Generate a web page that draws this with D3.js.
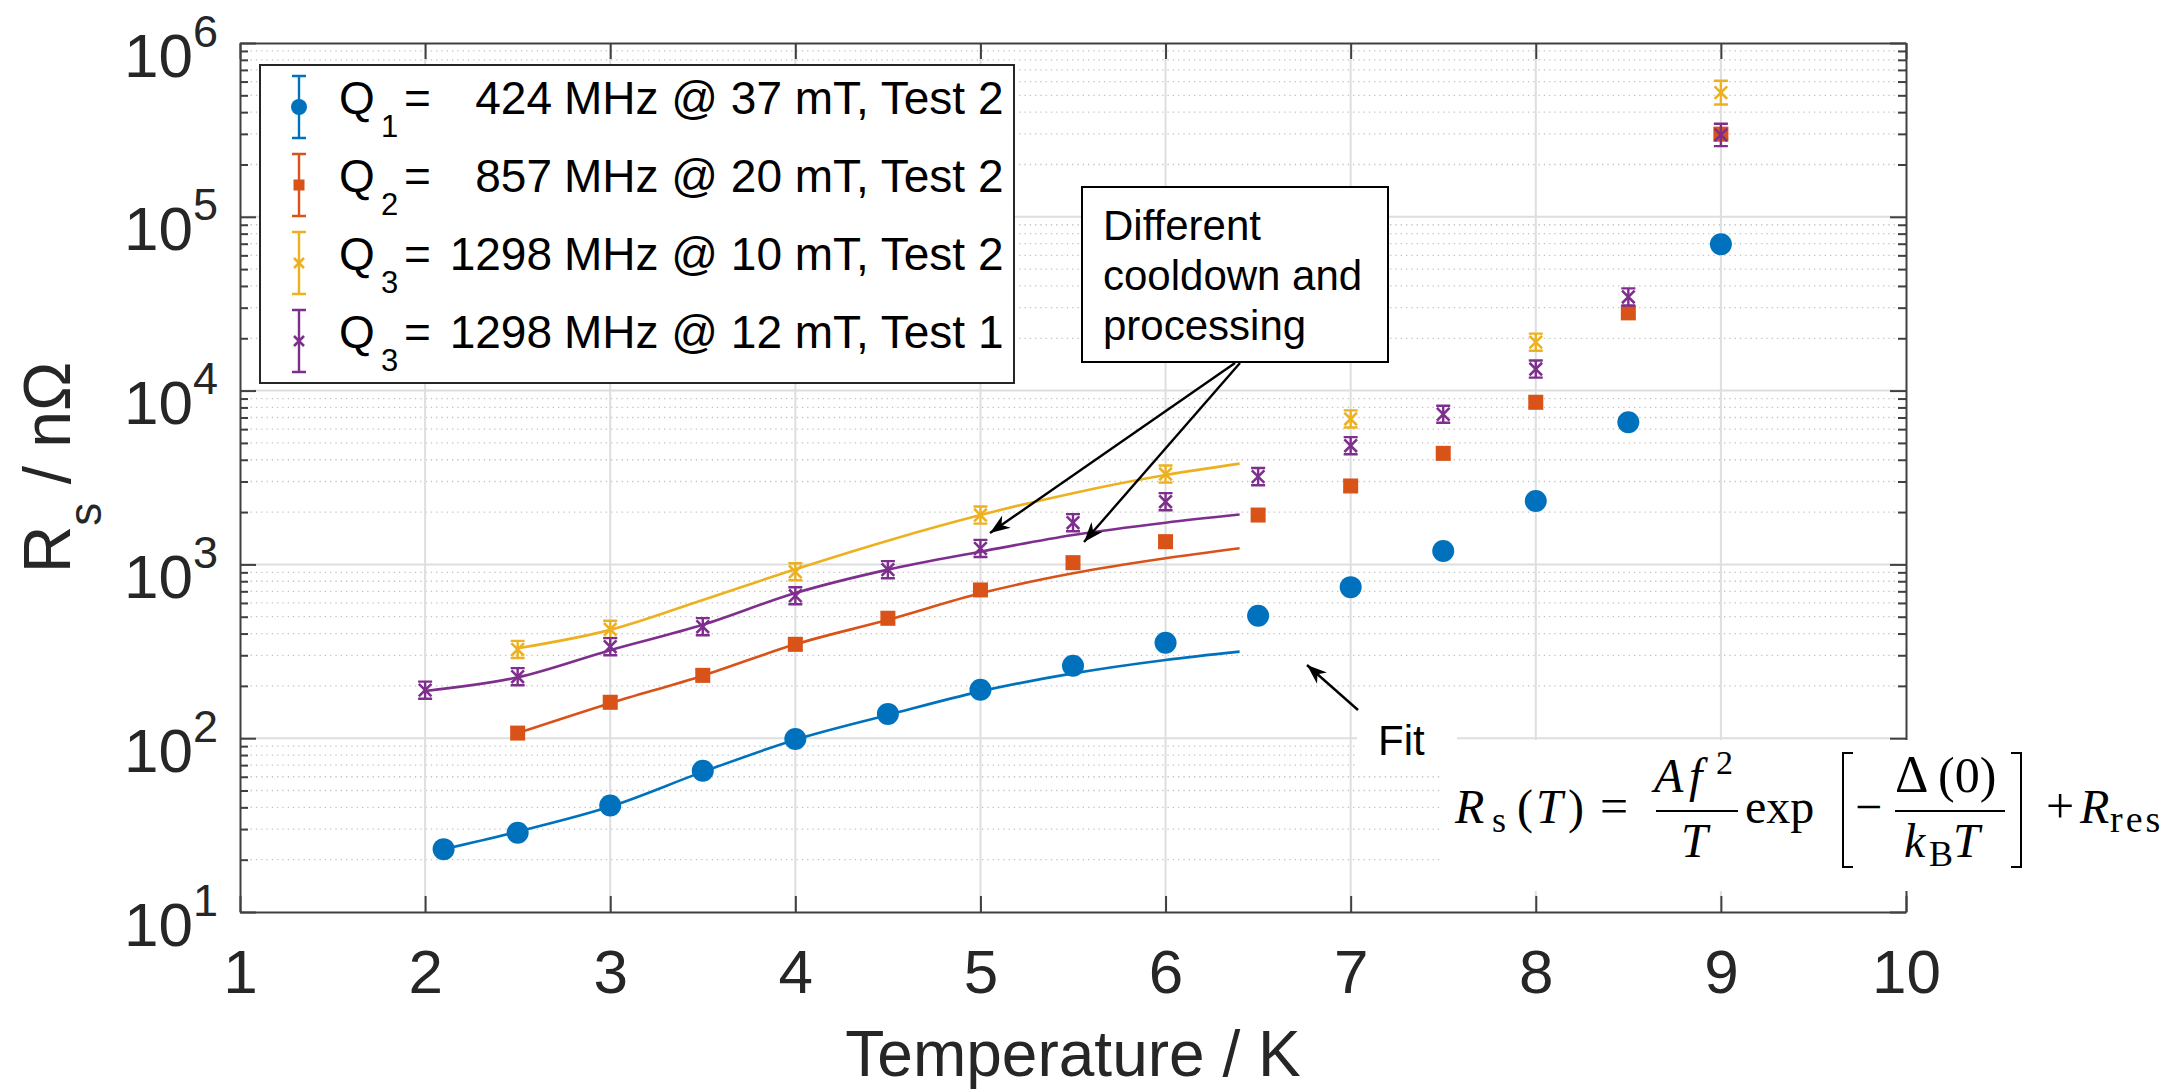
<!DOCTYPE html>
<html>
<head>
<meta charset="utf-8">
<script src="https://cdn.jsdelivr.net/npm/d3@7"></script>
<style>
	body { margin: 0; background: #fff; }
	svg { display: block; font-family: "Liberation Sans", Arial, sans-serif; }
</style>
</head>
<body>
<svg id="chart" width="2184" height="1089"></svg>
<script>
// ---- data (T in K, Rs in nOhm) ----
const tempQ1 = [2.1, 2.5, 3, 3.5, 4, 4.5, 5, 5.5, 6, 6.5, 7, 7.5, 8, 8.5, 9];
const rsQ1 = [23, 28.6, 41, 65, 99, 138, 190, 261, 354, 507, 740, 1195, 2316, 6580, 69500];
const errQ1 = [0.08, 0.08, 0.08, 0.08, 0.08, 0.08, 0.08, 0.08, 0.08, 0.08, 0.08, 0.08, 0.08, 0.08, 0.08];

const tempQ2 = [2.5, 3, 3.5, 4, 4.5, 5, 5.5, 6, 6.5, 7, 7.5, 8, 8.5, 9];
const rsQ2 = [107, 161, 230, 347, 490, 713, 1023, 1351, 1923, 2826, 4355, 8570, 28000, 299000];
const errQ2 = [0.08, 0.08, 0.08, 0.08, 0.08, 0.08, 0.08, 0.08, 0.08, 0.08, 0.08, 0.08, 0.08, 0.08];

const tempQ3a = [2.5, 3, 4, 5, 6, 7, 8, 9];
const rsQ3a = [324, 423, 907, 1923, 3310, 6870, 19000, 518000];
const errQ3a = [0.12, 0.12, 0.12, 0.12, 0.12, 0.12, 0.12, 0.17];

const tempQ3b = [2, 2.5, 3, 3.5, 4, 4.5, 5, 5.5, 6, 6.5, 7, 7.5, 8, 8.5, 9];
const rsQ3b = [189, 226, 336, 438, 660, 933, 1236, 1737, 2296, 3199, 4820, 7310, 13300, 34600, 296000];
const errQ3b = [0.12, 0.12, 0.12, 0.12, 0.12, 0.12, 0.12, 0.12, 0.12, 0.12, 0.12, 0.12, 0.12, 0.12, 0.16];

// fitted curves, sampled off the figure
const fitTempQ1 = [2.1, 2.5, 3, 3.5, 4, 4.5, 5, 5.5, 6, 6.4];
const fitQ1 = [23, 29, 40.4, 64, 98, 136, 186, 236, 282, 315];
const fitTempQ2 = [2.5, 3, 3.5, 4, 4.5, 5, 5.5, 6, 6.4];
const fitQ2 = [107, 159, 229, 347, 480, 682, 889, 1084, 1238];
const fitTempQ3a = [2.5, 3, 3.5, 4, 4.5, 5, 5.5, 6, 6.4];
const fitQ3a = [329, 420, 624, 938, 1370, 1923, 2570, 3266, 3800];
const fitTempQ3b = [2, 2.5, 3, 3.5, 4, 4.5, 5, 5.5, 6, 6.4];
const fitQ3b = [187, 224, 321, 449, 684, 933, 1183, 1476, 1738, 1935];

const xTicks = [1, 2, 3, 4, 5, 6, 7, 8, 9, 10];
const yTickExponents = [1, 2, 3, 4, 5, 6];

const legendSubs = ["1", "2", "3", "3"];
const legendFreqs = ["424", "857", "1298", "1298"];
const legendRest = ["MHz @ 37 mT, Test 2", "MHz @ 20 mT, Test 2", "MHz @ 10 mT, Test 2", "MHz @ 12 mT, Test 1"];

const noteLines = ["Different", "cooldown and", "processing"];

// ---- layout ----
const margin = { top: 43, right: 278, bottom: 177, left: 240 };
const width = 2184 - margin.left - margin.right;
const height = 1089 - margin.top - margin.bottom;
const axisColor = "#404040";
const textColor = "#262626";

const series = [
	{ t: tempQ1, v: rsQ1, e: errQ1, ft: fitTempQ1, fv: fitQ1, color: "#0072BD", marker: "circle" },
	{ t: tempQ2, v: rsQ2, e: errQ2, ft: fitTempQ2, fv: fitQ2, color: "#D95319", marker: "square" },
	{ t: tempQ3a, v: rsQ3a, e: errQ3a, ft: fitTempQ3a, fv: fitQ3a, color: "#EDB120", marker: "cross" },
	{ t: tempQ3b, v: rsQ3b, e: errQ3b, ft: fitTempQ3b, fv: fitQ3b, color: "#7E2F8E", marker: "cross" }
];

const svg = d3.select("#chart");
const g = svg.append("g").attr("transform", `translate(${margin.left},${margin.top})`);

const x = d3.scaleLinear().domain([1, 10]).range([0, width]);
const y = d3.scaleLog().domain([10, 1e6]).range([height, 0]);

const majorY = yTickExponents.map(p => Math.pow(10, p));
const minorY = [];
yTickExponents.slice(0, -1).forEach(p => {
	for (let m = 2; m <= 9; m++) minorY.push(m * Math.pow(10, p));
});

// ---- grid ----
const grid = g.append("g");
grid.selectAll("line.minor").data(minorY).join("line")
	.attr("class", "minor")
	.attr("x1", 0).attr("x2", width)
	.attr("y1", d => y(d)).attr("y2", d => y(d))
	.attr("stroke", "#c2c2c2").attr("stroke-width", 1.3)
	.attr("stroke-dasharray", "1.3,4");
grid.selectAll("line.majy").data(majorY.slice(1, -1)).join("line")
	.attr("class", "majy")
	.attr("x1", 0).attr("x2", width)
	.attr("y1", d => y(d)).attr("y2", d => y(d))
	.attr("stroke", "#dedede").attr("stroke-width", 2);
grid.selectAll("line.majx").data(xTicks.slice(1, -1)).join("line")
	.attr("class", "majx")
	.attr("x1", d => x(d)).attr("x2", d => x(d))
	.attr("y1", 0).attr("y2", height)
	.attr("stroke", "#dedede").attr("stroke-width", 2);

// ---- fits ----
const line = d3.line().x(d => x(d[0])).y(d => y(d[1])).curve(d3.curveMonotoneX);
series.forEach(s => {
	g.append("path")
		.datum(s.ft.map((t, i) => [t, s.fv[i]]))
		.attr("d", line)
		.attr("fill", "none")
		.attr("stroke", s.color)
		.attr("stroke-width", 2.6);
});

// ---- markers with error bars ----
const drawMarker = (sel, type, color, size) => {
	if (type === "circle") {
		sel.append("circle").attr("r", size).attr("fill", color);
	} else if (type === "square") {
		sel.append("rect").attr("x", -size).attr("y", -size)
			.attr("width", 2 * size).attr("height", 2 * size).attr("fill", color);
	} else {
		sel.append("path")
			.attr("d", `M${-size},${-size}L${size},${size}M${-size},${size}L${size},${-size}`)
			.attr("stroke", color).attr("stroke-width", 2.6).attr("fill", "none");
	}
};

const markerSize = { circle: 11, square: 7.5, cross: 6.3 };

series.forEach(s => {
	const pts = s.t.map((t, i) => ({ t, v: s.v[i], e: s.e[i] }));
	const pg = g.append("g").selectAll("g").data(pts).join("g")
		.attr("transform", d => `translate(${x(d.t)},${y(d.v)})`);

	pg.append("path")
		.attr("d", d => {
			const top = y(d.v * (1 + d.e)) - y(d.v);
			const bot = y(d.v / (1 + d.e)) - y(d.v);
			return `M0,${top}V${bot}M-7,${top}H7M-7,${bot}H7`;
		})
		.attr("stroke", s.color).attr("stroke-width", 2.4).attr("fill", "none");

	pg.each(function () {
		drawMarker(d3.select(this), s.marker, s.color, markerSize[s.marker]);
	});
});

// ---- axes ----
const styleAxis = (sel) => {
	sel.attr("font-family", null).attr("font-size", null);
	sel.selectAll("path.domain").attr("stroke", axisColor).attr("stroke-width", 2);
	sel.selectAll(".tick line").attr("stroke", axisColor).attr("stroke-width", 2);
	sel.selectAll("text").attr("fill", textColor);
};

const noLabel = () => "";

const xAxis = g.append("g")
	.attr("transform", `translate(0,${height})`)
	.call(d3.axisBottom(x).tickValues(xTicks).tickSizeInner(-16).tickSizeOuter(0).tickPadding(37).tickFormat(d3.format("d")))
	.call(styleAxis);
xAxis.selectAll("text").attr("font-size", 62);

g.append("g")
	.call(d3.axisTop(x).tickValues(xTicks).tickSizeInner(-16).tickSizeOuter(0).tickFormat(noLabel))
	.call(styleAxis);

const yAxis = g.append("g")
	.call(d3.axisLeft(y).tickValues(majorY).tickSizeInner(-16).tickSizeOuter(0).tickPadding(22).tickFormat(noLabel))
	.call(styleAxis);

yAxis.selectAll(".tick text").each(function (d) {
	const t = d3.select(this).attr("dy", null);
	t.append("tspan").attr("font-size", 62).attr("dy", 33).text("10");
	t.append("tspan").attr("font-size", 45).attr("dy", -30).text(Math.round(Math.log10(d)));
});

g.append("g")
	.call(d3.axisLeft(y).tickValues(minorY).tickSize(-8).tickFormat(noLabel))
	.call(styleAxis)
	.select("path.domain").remove();

g.append("g")
	.attr("transform", `translate(${width},0)`)
	.call(d3.axisRight(y).tickValues(majorY).tickSizeInner(-16).tickSizeOuter(0).tickFormat(noLabel))
	.call(styleAxis);

g.append("g")
	.attr("transform", `translate(${width},0)`)
	.call(d3.axisRight(y).tickValues(minorY).tickSize(-8).tickFormat(noLabel))
	.call(styleAxis)
	.select("path.domain").remove();

// axis titles
g.append("text")
	.attr("x", width / 2)
	.attr("y", height + 164)
	.attr("text-anchor", "middle")
	.attr("font-size", 64)
	.attr("fill", textColor)
	.text("Temperature / K");

const yTitle = svg.append("text")
	.attr("transform", `translate(70,${margin.top + height / 2 - 10}) rotate(-90)`)
	.attr("text-anchor", "middle")
	.attr("font-size", 66)
	.attr("fill", textColor);
yTitle.append("tspan").text("R");
yTitle.append("tspan").attr("font-size", 46).attr("dy", 31).text("s");
yTitle.append("tspan").attr("dy", -31).text(" / nΩ");

// ---- annotations ----
const arrowHead = (sel, x1, y1, x2, y2) => {
	const a = Math.atan2(y2 - y1, x2 - x1);
	const len = 20, half = 7.5, notch = 14;
	const p = (d, w) => [x2 - d * Math.cos(a) - w * Math.sin(a), y2 - d * Math.sin(a) + w * Math.cos(a)];
	const pts = [[x2, y2], p(len, half), p(notch, 0), p(len, -half)];
	sel.append("path").attr("d", "M" + pts.join("L") + "Z").attr("fill", "#000");
};

const arrow = (x1, y1, x2, y2) => {
	svg.append("line")
		.attr("x1", x1).attr("y1", y1).attr("x2", x2).attr("y2", y2)
		.attr("stroke", "#000").attr("stroke-width", 2.4);
	arrowHead(svg, x1, y1, x2, y2);
};

// note box
svg.append("rect")
	.attr("x", 1082).attr("y", 187).attr("width", 306).attr("height", 175)
	.attr("fill", "#fff").attr("stroke", "#000").attr("stroke-width", 2);
svg.append("g").selectAll("text").data(noteLines).join("text")
	.attr("x", 1103)
	.attr("y", (d, i) => 240 + i * 50)
	.attr("font-size", 42)
	.attr("fill", "#000")
	.text(d => d);
arrow(1235, 363, 990, 533);
arrow(1240, 363, 1084, 542);

// Fit label
svg.append("rect").attr("x", 1357).attr("y", 705).attr("width", 100).attr("height", 62).attr("fill", "#fff");
svg.append("text").attr("x", 1378).attr("y", 755).attr("font-size", 42).attr("fill", "#000").text("Fit");
arrow(1358, 710, 1307, 665);

// formula
svg.append("rect").attr("x", 1442).attr("y", 740).attr("width", 742).attr("height", 151).attr("fill", "#fff");
const formula = svg.append("g").attr("font-family", "Liberation Serif, 'DejaVu Serif', serif").attr("fill", "#000");
const pieces = [
	["R", 1455, 823, 48, true], ["s", 1492, 832, 36, false],
	["(", 1517, 823, 48, false], ["T", 1536, 823, 48, true], [")", 1568, 823, 48, false],
	["=", 1600, 823, 50, false],
	["A", 1654, 792, 48, true], ["f", 1689, 792, 48, true], ["2", 1716, 774, 34, false],
	["T", 1681, 857, 48, true],
	["exp", 1745, 823, 48, false],
	["\u2212", 1855, 823, 48, false],
	["\u0394", 1895, 792, 52, false], ["(0)", 1938, 792, 50, false],
	["k", 1904, 857, 48, true], ["B", 1929, 866, 36, false], ["T", 1953, 857, 48, true],
	["+", 2046, 823, 50, false],
	["R", 2080, 823, 48, true], ["res", 2110, 832, 38, false]
];
formula.selectAll("text").data(pieces).join("text")
	.attr("x", d => d[1]).attr("y", d => d[2])
	.attr("font-size", d => d[3])
	.attr("font-style", d => d[4] ? "italic" : "normal")
	.attr("letter-spacing", d => d[0] === "res" ? 3 : null)
	.text(d => d[0]);
formula.append("path")
	.attr("d", "M1656,811H1738M1895,811H2005M1853,753H1843V867H1853M2011,753H2021V867H2011")
	.attr("stroke", "#000").attr("stroke-width", 2).attr("fill", "none");

// ---- legend ----
const legend = svg.append("g");
legend.append("rect")
	.attr("x", 260).attr("y", 65).attr("width", 754).attr("height", 318)
	.attr("fill", "#fff").attr("stroke", "#262626").attr("stroke-width", 2);

const legendSize = { circle: 8, square: 5.5, cross: 5 };
const rows = legend.selectAll("g.row").data(series).join("g")
	.attr("class", "row")
	.attr("transform", (d, i) => `translate(0,${107 + i * 78})`);

rows.append("path")
	.attr("d", "M299,-31V31M292,-31H306M292,31H306")
	.attr("stroke", d => d.color).attr("stroke-width", 2.4).attr("fill", "none");
rows.each(function (d) {
	const m = d3.select(this).append("g").attr("transform", "translate(299,0)");
	drawMarker(m, d.marker, d.color, legendSize[d.marker]);
});

rows.append("text").attr("x", 339).attr("y", 7).attr("font-size", 46).text("Q");
rows.append("text").attr("x", 381).attr("y", 30).attr("font-size", 31).text((d, i) => legendSubs[i]);
rows.append("text").attr("x", 404).attr("y", 7).attr("font-size", 46).text("=");
rows.append("text").attr("x", 552).attr("y", 7).attr("font-size", 46).attr("text-anchor", "end").text((d, i) => legendFreqs[i]);
rows.append("text").attr("x", 564).attr("y", 7).attr("font-size", 46).text((d, i) => legendRest[i]);
</script>
</body>
</html>
